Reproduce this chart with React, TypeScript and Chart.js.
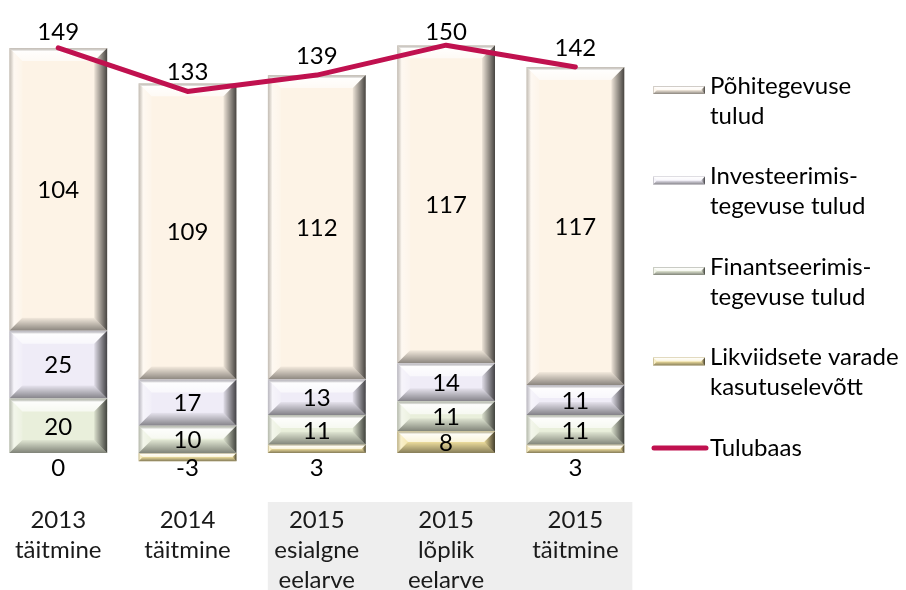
import React, { useEffect, useRef } from "react";
import { Chart, registerables } from "chart.js";
Chart.register(...registerables);

const categories = [
  ["2013", "täitmine"],
  ["2014", "täitmine"],
  ["2015", "esialgne", "eelarve"],
  ["2015", "lõplik", "eelarve"],
  ["2015", "täitmine"],
];
const pohitegevuseTulud = [104, 109, 112, 117, 117];
const investeerimistegevuseTulud = [25, 17, 13, 14, 11];
const finantseerimistegevuseTulud = [20, 10, 11, 11, 11];
const likviidseteVaradeKasutuselevott = [0, -3, 3, 8, 3];
const tulubaas = [149, 133, 139, 150, 142];
const seriesNames = [
  "Põhitegevuse tulud",
  "Investeerimistegevuse tulud",
  "Finantseerimistegevuse tulud",
  "Likviidsete varade kasutuselevõtt",
  "Tulubaas",
];
const legendLines = [
  ["Põhitegevuse", "tulud"],
  ["Investeerimis-", "tegevuse tulud"],
  ["Finantseerimis-", "tegevuse tulud"],
  ["Likviidsete varade", "kasutuselevõtt"],
  ["Tulubaas"],
];

const COLORS = {
  pohi: "#FDF3E6",
  inv: "#EFECF7",
  fin: "#E9EFDB",
  lik: "#F5E4A2",
  line: "#C0114F",
};
const FONT = "Lato, 'Open Sans', sans-serif";
const FS = 24;

function poly(ctx: CanvasRenderingContext2D, pts: number[][], fill: any) {
  ctx.beginPath();
  ctx.moveTo(pts[0][0], pts[0][1]);
  for (let i = 1; i < pts.length; i++) ctx.lineTo(pts[i][0], pts[i][1]);
  ctx.closePath();
  ctx.fillStyle = fill;
  ctx.fill();
}

function drawBevel(ctx: CanvasRenderingContext2D, l: number, t: number, r: number, b: number, maxS = 13) {
  const s = Math.min(maxS, (b - t) / 2, (r - l) / 2);
  ctx.save();
  let g = ctx.createLinearGradient(0, t, 0, t + s);
  g.addColorStop(0, "rgba(110,110,110,0.35)");
  g.addColorStop(0.25, "rgba(255,255,255,0.92)");
  g.addColorStop(1, "rgba(255,255,255,0.6)");
  poly(ctx, [[l, t], [r, t], [r - s, t + s], [l + s, t + s]], g);
  g = ctx.createLinearGradient(l, 0, l + s, 0);
  g.addColorStop(0, "rgba(90,90,90,0.35)");
  g.addColorStop(0.35, "rgba(255,255,255,0.45)");
  g.addColorStop(1, "rgba(255,255,255,0.15)");
  poly(ctx, [[l, t], [l + s, t + s], [l + s, b - s], [l, b]], g);
  g = ctx.createLinearGradient(r - s, 0, r, 0);
  g.addColorStop(0, "rgba(0,0,0,0.06)");
  g.addColorStop(1, "rgba(0,0,0,0.72)");
  poly(ctx, [[r, t], [r, b], [r - s, b - s], [r - s, t + s]], g);
  g = ctx.createLinearGradient(0, b - s, 0, b);
  g.addColorStop(0, "rgba(0,0,0,0.04)");
  g.addColorStop(1, "rgba(0,0,0,0.45)");
  poly(ctx, [[l, b], [r, b], [r - s, b - s], [l + s, b - s]], g);
  ctx.restore();
}

const bgPlugin = {
  id: "labelBg",
  beforeDraw(chart: any) {
    const { ctx, chartArea, scales } = chart;
    const x = scales.x;
    const x1 = x.getPixelForValue(2) - 49;
    const x2 = x.getPixelForValue(4) + 57;
    const y1 = chartArea.bottom + 27;
    ctx.save();
    ctx.fillStyle = "#EEEEEE";
    ctx.fillRect(x1, y1, x2 - x1, chart.height - y1);
    ctx.restore();
  },
};

const bevelPlugin = {
  id: "bevel",
  afterDatasetDraw(chart: any, args: any) {
    const meta = args.meta;
    if (meta.type !== "bar") return;
    const ctx = chart.ctx;
    meta.data.forEach((el: any) => {
      const { x, y, base, width } = el.getProps(["x", "y", "base", "width"], true);
      const l = x - width / 2;
      const r = x + width / 2;
      const t = Math.min(y, base);
      const b = Math.max(y, base);
      if (b - t < 1) return;
      drawBevel(ctx, l, t, r, b);
    });
  },
};

const labelPlugin = {
  id: "valueLabels",
  afterDatasetsDraw(chart: any) {
    const { ctx, scales } = chart;
    const zeroY = scales.y.getPixelForValue(0);
    ctx.save();
    ctx.font = `${FS}px ${FONT}`;
    ctx.fillStyle = "#000";
    ctx.textAlign = "center";
    ctx.textBaseline = "middle";
    chart.data.datasets.forEach((ds: any, di: number) => {
      const meta = chart.getDatasetMeta(di);
      meta.data.forEach((el: any, i: number) => {
        const v = ds.data[i];
        const { x, y, base } = el.getProps(["x", "y", "base"], true);
        if (meta.type === "line") {
          ctx.fillText(String(v), x, Math.max(y - 19, 32));
        } else if (Math.abs(v) < 5) {
          ctx.fillText(String(v), x, zeroY + 15);
        } else {
          ctx.fillText(String(v), x, (y + base) / 2 + 1);
        }
      });
    });
    ctx.restore();
  },
};

const legendPlugin = {
  id: "customLegend",
  afterDraw(chart: any) {
    const { ctx, chartArea } = chart;
    const sx = chartArea.right + 13;
    const sw = 52;
    const tx = chartArea.right + 70;
    const fills = [COLORS.pohi, COLORS.inv, COLORS.fin, COLORS.lik];
    ctx.save();
    ctx.font = `${FS}px ${FONT}`;
    ctx.textAlign = "left";
    ctx.textBaseline = "middle";
    legendLines.forEach((lines, i) => {
      const y0 = 86 + i * 90.5;
      if (i < 4) {
        const sy = y0 + 4;
        ctx.fillStyle = fills[i];
        ctx.fillRect(sx, sy - 4, sw, 8);
        drawBevel(ctx, sx, sy - 4, sx + sw, sy + 4, 4);
      } else {
        ctx.strokeStyle = COLORS.line;
        ctx.lineWidth = 5;
        ctx.lineCap = "round";
        ctx.beginPath();
        ctx.moveTo(sx + 1, y0);
        ctx.lineTo(sx + sw + 1, y0);
        ctx.stroke();
      }
      ctx.fillStyle = "#000";
      lines.forEach((line, j) => ctx.fillText(line, tx, y0 + j * 30));
    });
    ctx.restore();
  },
};

export default function App() {
  const ref = useRef<HTMLCanvasElement>(null);
  useEffect(() => {
    if (!ref.current) return;
    const barCommon = { order: 1, stack: "s", categoryPercentage: 1, barPercentage: 0.757, borderWidth: 0 };
    const chart = new Chart(ref.current, {
      type: "bar",
      data: {
        labels: categories,
        datasets: [
          { type: "line", label: seriesNames[4], data: tulubaas, order: 0, stack: "line", borderColor: COLORS.line, backgroundColor: COLORS.line, borderWidth: 5, pointRadius: 0, tension: 0, borderCapStyle: "round", borderJoinStyle: "round" } as any,
          { ...barCommon, label: seriesNames[3], data: likviidseteVaradeKasutuselevott, backgroundColor: COLORS.lik },
          { ...barCommon, label: seriesNames[2], data: finantseerimistegevuseTulud, backgroundColor: COLORS.fin },
          { ...barCommon, label: seriesNames[1], data: investeerimistegevuseTulud, backgroundColor: COLORS.inv },
          { ...barCommon, label: seriesNames[0], data: pohitegevuseTulud, backgroundColor: COLORS.pohi },
        ],
      },
      options: {
        animation: false,
        responsive: false,
        layout: { padding: { top: 18, right: 265, left: 0, bottom: 0 } },
        plugins: { legend: { display: false }, tooltip: { enabled: false } },
        scales: {
          x: {
            stacked: true,
            grid: { display: false },
            border: { display: false },
            afterFit: (scale: any) => {
              scale.height = 115;
            },
            ticks: {
              font: { family: FONT, size: FS, lineHeight: 1.25 },
              color: "#1a1a1a",
              padding: 22,
              maxRotation: 0,
              autoSkip: false,
            },
          },
          y: { stacked: true, display: false, min: -8.1, max: 160 },
        },
      },
      plugins: [bgPlugin, bevelPlugin, labelPlugin, legendPlugin],
    });
    return () => chart.destroy();
  }, []);
  return (
    <div style={{ position: "fixed", left: -7, top: 0, width: 913, height: 590, background: "#fff" }}>
      <canvas ref={ref} width={912} height={590} style={{ width: 912, height: 590 }} />
    </div>
  );
}
